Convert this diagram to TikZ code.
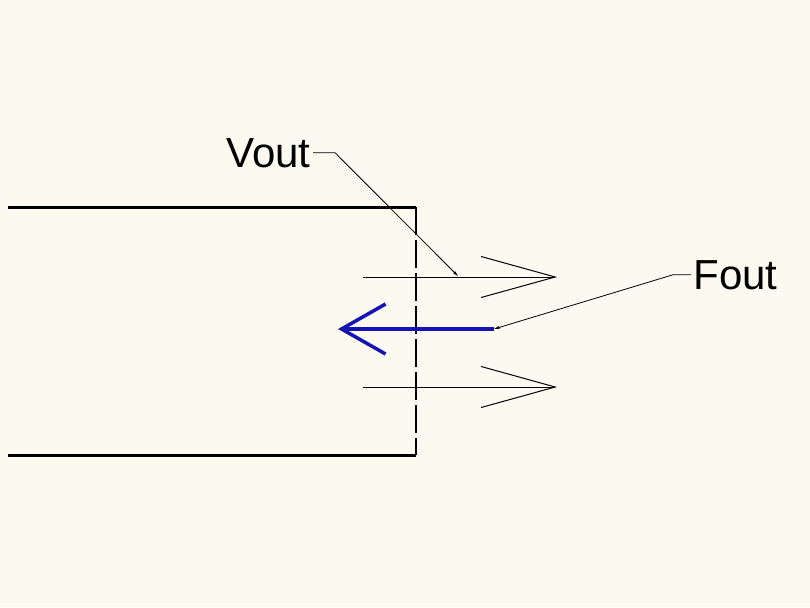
\documentclass[tikz,border=0pt]{standalone}
\usepackage{fontspec}
\setmainfont{Liberation Sans}
\usetikzlibrary{arrows.meta}
\definecolor{bgc}{HTML}{FCFAF0}
\definecolor{forcec}{HTML}{1414B4}
\newcommand{\flowline}[3]{%
  \coordinate (#1a) at (363,#2);
  \coordinate (#1b) at (557,#2);
  \draw[#3] (#1a) -- (#1b);
}

\begin{document}
\begin{tikzpicture}[x=1pt, y=-1pt, line width=1pt,
      font=\fontsize{42}{48}\selectfont,
      flow/.style={-{Straight Barb[length=74pt, width=41pt]}},
      lead/.style={line width=0.8pt, -{Stealth[length=6pt, width=3pt]}},
      lbl/.style={inner sep=2pt}]
    \fill[bgc] (0,0) rectangle (810,607);
    \useasboundingbox (0,0) rectangle (810,607);
    % pipe walls and outlet plane
    \coordinate (tl) at (8,207);
    \coordinate (tr) at (416,207);
    \coordinate (bl) at (8,455);
    \coordinate (br) at (416,455);
    \draw[line width=3pt] (tl) -- (tr);
    \draw[line width=3pt] (bl) -- (br);
    \draw[line width=1.4pt, dash pattern=on 28pt off 5pt] (tr) -- (br);
    % outflow
    \flowline{up}{277}{flow}
    \flowline{dn}{387}{flow}
    % force
    \coordinate (f0) at (494,329);
    \coordinate (f1) at (338,329);
    \draw[forcec, line width=3.5pt,
          -{Straight Barb[length=44pt, width=50pt]}] (f0) -- (f1);
    % labels
    \node[lbl, anchor=base west] (vout) at (224,167) {Vout};
    \node[lbl, anchor=base west] (fout) at (691,289) {Fout};
    \coordinate (vtip) at (458,276);
    \draw[lead] (vout.east) -- ++(22,0) -- (vtip);
    \draw[lead] (fout.west) -- ++(-18,0) -- (f0);
  \end{tikzpicture}
\end{document}
